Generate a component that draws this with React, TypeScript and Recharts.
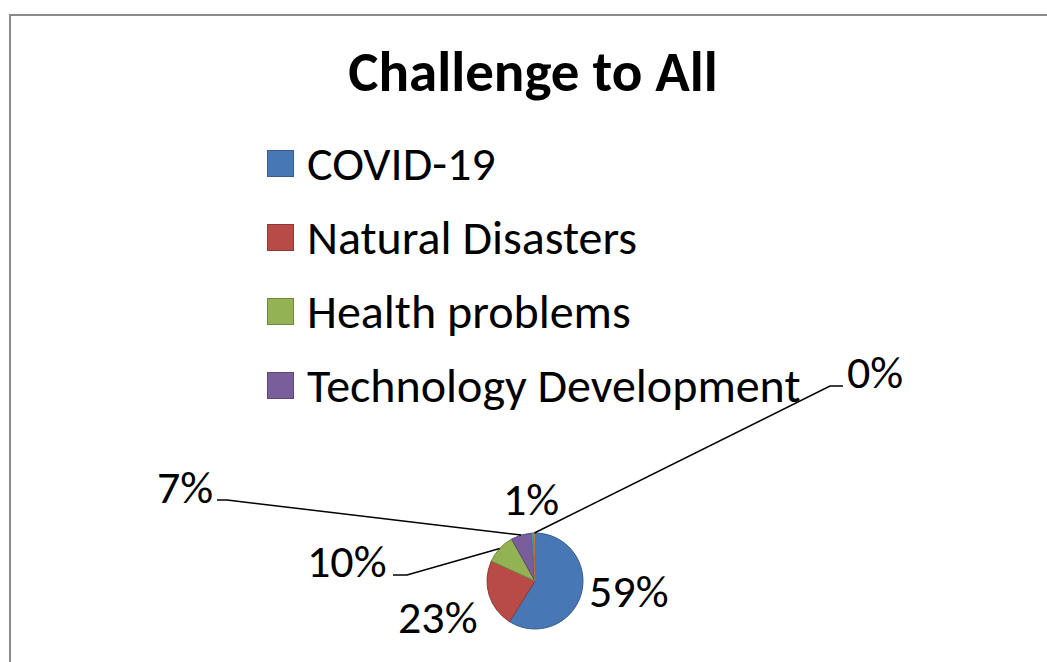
import React from "react";
import { PieChart, Pie, Cell, Legend } from "recharts";

const categories = [
  "COVID-19",
  "Natural Disasters",
  "Health problems",
  "Technology Development",
  "Others",
  "No Answer",
];
const shares = [58.9, 22.9, 10.1, 6.9, 0.8, 0.4];
const legendCount = 4;
const fills = ["#4778B5", "#B84A47", "#93B253", "#7A5E9C", "#46A8C2", "#F08E3E"];
const strokes = ["#385D8A", "#8C3836", "#71893F", "#5C4776", "#357D91", "#B66D31"];

const data = categories.map((name, i) => ({ name, value: shares[i] }));

const FONT = "Carlito, Lato, 'Open Sans', sans-serif";

// label placement (relative to pie centre): text start + baseline, optional leader elbow/end
const labelLayout = [
  { dx: 54, dy: 26 },
  { dx: -137, dy: 52 },
  { dx: -228, dy: -4, elbow: [-128, -6], end: [-142, -6] },
  { dx: -378, dy: -78, elbow: [-308, -81], end: [-318, -81] },
  { dx: -32, dy: -66 },
  { dx: 312, dy: -193, elbow: [295, -195], end: [308, -195] },
];

const RAD = Math.PI / 180;

const renderLabel = (props: any) => {
  const { cx, cy, midAngle, outerRadius, percent, index } = props;
  const L = labelLayout[index];
  const ax = cx + outerRadius * Math.cos(-midAngle * RAD);
  const ay = cy + outerRadius * Math.sin(-midAngle * RAD);
  return (
    <g key={`lbl-${index}`}>
      {L.elbow && (
        <polyline
          points={`${ax},${ay} ${cx + L.elbow[0]},${cy + L.elbow[1]} ${cx + L.end[0]},${cy + L.end[1]}`}
          fill="none"
          stroke="#000"
          strokeWidth={1.5}
        />
      )}
      <text x={cx + L.dx} y={cy + L.dy} fill="#000" fontSize={46} fontFamily={FONT} textAnchor="start">
        {`${Math.round(percent * 100)}%`}
      </text>
    </g>
  );
};

const renderLegend = (props: any) => {
  const payload: any[] = props.payload || [];
  const items = categories.slice(0, legendCount).map((name, i) => {
    const entry = payload.find((p: any) => p.value === name);
    return { name, color: entry ? entry.color : fills[i], i };
  });
  return (
    <div style={{ fontFamily: FONT }}>
      {items.map((it) => (
        <div key={it.name} style={{ display: "flex", alignItems: "center", height: 74 }}>
          <div
            style={{
              width: 25,
              height: 25,
              background: it.color,
              border: `1.5px solid ${strokes[it.i]}`,
              marginRight: 13,
            }}
          />
          <span style={{ fontSize: 48, color: "#000", whiteSpace: "nowrap" }}>{it.name}</span>
        </div>
      ))}
    </div>
  );
};

export default function App() {
  return (
    <div style={{ position: "fixed", left: 0, top: 0, width: 1047, height: 662, overflow: "hidden", background: "#fff" }}>
      <div
        style={{
          position: "absolute",
          left: 9,
          top: 14,
          width: 1200,
          height: 800,
          borderTop: "2px solid #8a8a8a",
          borderLeft: "2px solid #8a8a8a",
        }}
      />
      <svg width={1047} height={130} style={{ position: "absolute", left: 0, top: 0 }}>
        <text x={533} y={91} textAnchor="middle" fontSize={57} fontWeight="bold" fontFamily={FONT} fill="#000">
          Challenge to All
        </text>
      </svg>
      <div style={{ position: "absolute", left: 0, top: 0 }}>
        <PieChart width={1047} height={662} margin={{ top: 0, right: 0, bottom: 0, left: 0 }}>
          <Legend
            layout="vertical"
            align="center"
            verticalAlign="middle"
            content={renderLegend}
            wrapperStyle={{ left: 267, top: 126, width: 600, height: 300 }}
          />
          <Pie
            data={data}
            dataKey="value"
            nameKey="name"
            cx={535}
            cy={581}
            outerRadius={48}
            startAngle={90}
            endAngle={-270}
            label={renderLabel}
            labelLine={false}
            isAnimationActive={false}
          >
            {data.map((d, i) => (
              <Cell key={d.name} fill={fills[i]} stroke={strokes[i]} strokeWidth={1} />
            ))}
          </Pie>
        </PieChart>
      </div>
    </div>
  );
}
